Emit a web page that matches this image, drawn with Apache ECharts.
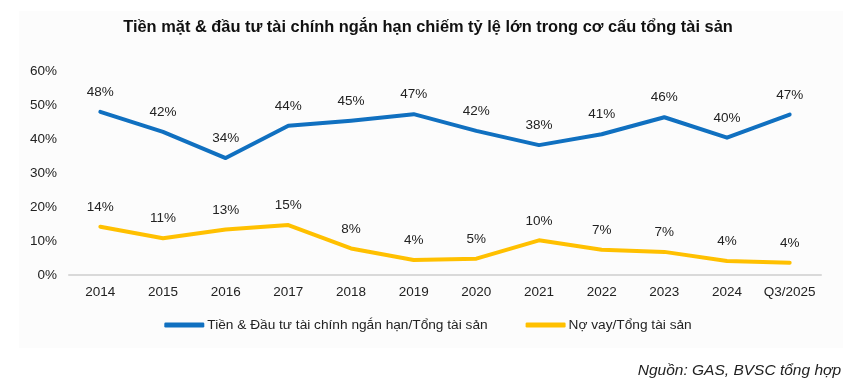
<!DOCTYPE html>
<html>
<head>
<meta charset="utf-8">
<script src="https://cdn.jsdelivr.net/npm/echarts@6/dist/echarts.min.js"></script>
<style>
html,body{margin:0;padding:0;background:#fff;}
#c{width:856px;height:390px;}
</style>
</head>
<body>
<div id="c"></div>
<script>
const categories = ['2014','2015','2016','2017','2018','2019','2020','2021','2022','2023','2024','Q3/2025'];
const cashRatio = [48.0, 42.1, 34.4, 43.9, 45.4, 47.3, 42.4, 38.2, 41.4, 46.4, 40.4, 47.2];
const debtRatio = [14.2, 10.8, 13.4, 14.7, 7.8, 4.4, 4.8, 10.2, 7.4, 6.8, 4.1, 3.6];
const yTicks = [0, 10, 20, 30, 40, 50, 60];
const seriesNames = ['Tiền & Đầu tư tài chính ngắn hạn/Tổng tài sản', 'Nợ vay/Tổng tài sản'];
const titleText = 'Tiền mặt & đầu tư tài chính ngắn hạn chiếm tỷ lệ lớn trong cơ cấu tổng tài sản';
const sourceText = 'Nguồn: GAS, BVSC tổng hợp';

const FONT = '"Liberation Sans", Arial, sans-serif';
const chart = echarts.init(document.getElementById('c'), null, {renderer: 'canvas'});
const labelCfg = {
  show: true, position: 'top', distance: 12,
  color: '#222', fontSize: 13.5, fontFamily: FONT,
  formatter: p => Math.round(p.value) + '%'
};
chart.setOption({
  animation: false,
  backgroundColor: '#ffffff',
  graphic: [
    {type: 'rect', z: -10, silent: true, shape: {x: 19, y: 11, width: 824, height: 337}, style: {fill: '#fcfcfc'}},
    {type: 'text', right: 15, top: 363, style: {text: sourceText, font: 'italic 15.5px ' + FONT, fill: '#222'}}
  ],
  title: {
    text: titleText, left: 'center', top: 14,
    textStyle: {fontFamily: FONT, fontSize: 16.4, fontWeight: 'bold', color: '#111'}
  },
  legend: {
    top: 313, left: 'center', itemGap: 38, itemWidth: 40, itemHeight: 5,
    icon: 'roundRect',
    textStyle: {fontFamily: FONT, fontSize: 13.7, color: '#222', padding: [0, 0, 0, -2]},
    data: seriesNames
  },
  grid: {left: 69, right: 35, top: 71, bottom: 115},
  xAxis: {
    type: 'category', data: categories, boundaryGap: true,
    axisLine: {lineStyle: {color: '#d9d9d9', width: 2}},
    axisTick: {show: false},
    axisLabel: {color: '#222', fontSize: 13.5, fontFamily: FONT, margin: 10, interval: 0}
  },
  yAxis: {
    type: 'value', min: yTicks[0], max: yTicks[yTicks.length - 1], interval: 10,
    splitLine: {show: false},
    axisLine: {show: false}, axisTick: {show: false},
    axisLabel: {color: '#222', fontSize: 13.5, fontFamily: FONT, margin: 12, formatter: v => v + '%'}
  },
  series: [
    {
      name: seriesNames[0], type: 'line', data: cashRatio, smooth: false,
      symbol: 'circle', symbolSize: 1, showSymbol: true,
      lineStyle: {color: '#1070c0', width: 4, cap: 'round', join: 'round'},
      itemStyle: {color: '#1070c0'}, label: labelCfg
    },
    {
      name: seriesNames[1], type: 'line', data: debtRatio, smooth: false,
      symbol: 'circle', symbolSize: 1, showSymbol: true,
      lineStyle: {color: '#ffc000', width: 4, cap: 'round', join: 'round'},
      itemStyle: {color: '#ffc000'}, label: labelCfg
    }
  ]
});
</script>
</body>
</html>
